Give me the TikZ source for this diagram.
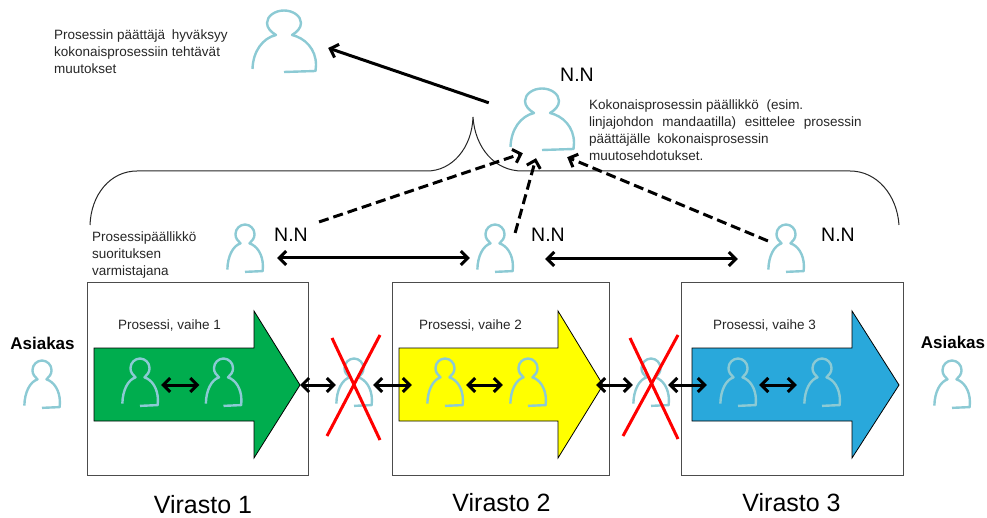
\documentclass[tikz,border=0pt]{standalone}
\usepackage{fontspec}
\setmainfont{Liberation Sans}
\usetikzlibrary{arrows.meta}

\newcommand{\henkilo}[4]{%
  \node[inner sep=0pt, minimum width={64pt*#3}, minimum height={62pt*#4}] (#1) at (#2) {};
  \draw[henkiloviiva, shift={(#2)}, xscale=#3, yscale=#4]
    (-31.5,28) .. controls (-31,10) and (-21,-3) .. (-8,-6)
    .. controls (-13,-9) and (-17,-13) .. (-17,-18)
    .. controls (-17,-25) and (-9,-30.5) .. (0,-30.5)
    .. controls (9,-30.5) and (17,-25) .. (17,-18)
    .. controls (17,-13) and (13,-9) .. (8,-6)
    .. controls (21,-3) and (32,8) .. (32,24) -- (31.5,30) -- (0,31);
}

\tikzset{
  henkiloviiva/.style={line width=2.4pt, draw=henkilovari, line join=round},
  teksti/.style={font=\fontsize{13.5}{17}\selectfont, align=left, anchor=west, inner sep=0pt, text=black!85},
  nimi/.style={font=\fontsize{19.5}{22}\selectfont, inner sep=0pt},
  virasto/.style={font=\fontsize{25}{28}\selectfont, inner sep=0pt},
  asiakas/.style={font=\fontsize{17}{20}\selectfont\bfseries, inner sep=0pt},
  laatikko/.style={draw=black!70, line width=1pt},
  vaihe/.style={draw=black, line width=0.8pt},
  ruksi/.style={red, line width=3pt},
  liitos/.style={<->, line width=3pt},
  esitys/.style={->, line width=3pt, dash pattern=on 10pt off 5pt},
  >={Straight Barb[length=7pt, width=14pt]}
}

\begin{document}
\begin{tikzpicture}[x=1pt, y=-1pt]
  % Define colors
  \definecolor{henkilovari}{HTML}{8CCAD4}
  \definecolor{vihrea}{HTML}{00AD4E}
  \definecolor{keltainen}{HTML}{FFFF00}
  \definecolor{sininen}{HTML}{29A8DB}

  \useasboundingbox (0,0) rectangle (987,518);

  % Agency boxes
  \draw[laatikko] (87,283) rectangle (308,475);
  \draw[laatikko] (392,283) rectangle (609,475);
  \draw[laatikko] (681,283) rectangle (903,475);

  % Process arrows
  \filldraw[vaihe, fill=vihrea] (94,348) -- (254,348) -- (254,311) -- (300,385) -- (254,458) -- (254,421) -- (94,421) -- cycle;
  \filldraw[vaihe, fill=keltainen] (399,348) -- (558,348) -- (558,311) -- (603,385) -- (558,458) -- (558,421) -- (399,421) -- cycle;
  \filldraw[vaihe, fill=sininen] (692,348) -- (852,348) -- (852,311) -- (899,385) -- (852,458) -- (852,421) -- (692,421) -- cycle;
  \coordinate (karki1) at (300,385);
  \coordinate (karki2) at (603,385);

  % Curly bracket
  \draw[black!85, line width=1pt] (90,225) .. controls (91,195) and (110,171) .. (137,171) -- (427,171)
    .. controls (452,171) and (472,148) .. (473,117)
    .. controls (475,148) and (495,171) .. (522,171) -- (850,171)
    .. controls (877,171) and (897,195) .. (899,225);

  % Decision maker and process owners
  \henkilo{paattaja}{284,41}{1}{1}
  \henkilo{paallikko}{542,119}{1}{1}
  \henkilo{omistaja1}{245,248}{0.56}{0.77}
  \henkilo{omistaja2}{495,248}{0.56}{0.77}
  \henkilo{omistaja3}{786,248}{0.56}{0.77}

  % People in the process row
  \henkilo{asiakas1}{42,384}{0.56}{0.77}
  \henkilo{tekija1}{140,382}{0.56}{0.77}
  \henkilo{tekija2}{223.5,382}{0.56}{0.77}
  \henkilo{valivaihe1}{354,382}{0.56}{0.77}
  \henkilo{tekija3}{445,382}{0.56}{0.77}
  \henkilo{tekija4}{528,382}{0.56}{0.77}
  \henkilo{valivaihe2}{651,382}{0.56}{0.77}
  \henkilo{tekija5}{738,382}{0.56}{0.77}
  \henkilo{tekija6}{822,382}{0.56}{0.77}
  \henkilo{asiakas2}{952,384}{0.56}{0.77}

  % Connect the people
  \draw[->, line width=3pt] ([xshift=-21pt, yshift=-15pt]paallikko.north west) -- ([xshift=12pt, yshift=-7pt]paattaja.east);
  \draw[esitys] ([xshift=56pt, yshift=2pt]omistaja1.north east) -- ([xshift=13pt, yshift=-3pt]paallikko.south west);
  \draw[esitys] ([xshift=2pt, yshift=-9pt]omistaja2.north east) -- ([xshift=-6pt, yshift=-8pt]paallikko.south);
  \draw[esitys] ([yshift=-17pt]omistaja3.north west) -- ([xshift=-7pt, yshift=-7pt]paallikko.south east);

  \draw[liitos] ([xshift=14pt, yshift=-10pt]omistaja1.east) -- ([xshift=-7pt, yshift=-10pt]omistaja2.west);
  \draw[liitos] ([xshift=32pt, yshift=-11pt]omistaja2.east) -- ([xshift=-30pt, yshift=-11pt]omistaja3.west);

  \draw[liitos] ([xshift=3pt, yshift=-3pt]tekija1.east) -- ([xshift=-6pt, yshift=-3pt]tekija2.west);
  \draw[liitos] (karki1) -- ([yshift=-3pt]valivaihe1.west);
  \draw[liitos] ([xshift=1pt, yshift=-3pt]valivaihe1.east) -- ([xshift=-15pt, yshift=-3pt]tekija3.west);
  \draw[liitos] ([xshift=3pt, yshift=-3pt]tekija3.east) -- ([xshift=-7pt, yshift=-3pt]tekija4.west);
  \draw[liitos] ([xshift=-7pt]karki2) -- ([yshift=-3pt]valivaihe2.west);
  \draw[liitos] ([xshift=-1pt, yshift=-3pt]valivaihe2.east) -- ([xshift=-13pt, yshift=-3pt]tekija5.west);
  \draw[liitos] ([xshift=3pt, yshift=-3pt]tekija5.east) -- ([xshift=-7pt, yshift=-3pt]tekija6.west);

  % Red crosses
  \draw[ruksi] (332,338) -- (380,440);
  \draw[ruksi] (380,335) -- (327,436);
  \draw[ruksi] (630,338) -- (678,439);
  \draw[ruksi] (678,335) -- (623,436);

  % Add descriptions
  \node[teksti] (paattajateksti) at (54,52) {Prosessin päättäjä\hspace{3pt} hyväksyy\\ kokonaisprosessiin tehtävät\\ muutokset};
  \node[teksti] (paallikkoteksti) at (589,130.5) {Kokonaisprosessin päällikkö\hspace{4pt} (esim.\\ linjajohdon\hspace{5pt} mandaatilla)\hspace{5pt} esittelee\hspace{5pt} prosessin\\ päättäjälle\hspace{3pt} kokonaisprosessin\\ muutosehdotukset.};
  \node[teksti] (omistajateksti) at (92,255) {Prosessipäällikkö\\ suorituksen\\ varmistajana};

  \node[nimi] (nimi0) at (577,75) {N.N};
  \node[nimi] (nimi1) at (291,235) {N.N};
  \node[nimi] (nimi2) at (548,235) {N.N};
  \node[nimi] (nimi3) at (838,235) {N.N};

  \node[teksti] (vaihe1) at (118,325) {Prosessi, vaihe 1};
  \node[teksti] (vaihe2) at (419,325) {Prosessi, vaihe 2};
  \node[teksti] (vaihe3) at (713,325) {Prosessi, vaihe 3};

  \node[asiakas] (asiakasteksti1) at (42.5,343) {Asiakas};
  \node[asiakas] (asiakasteksti2) at (953,342) {Asiakas};

  \node[virasto] (virasto1) at (203,505) {Virasto 1};
  \node[virasto] (virasto2) at (501.5,503) {Virasto 2};
  \node[virasto] (virasto3) at (791.5,503) {Virasto 3};
\end{tikzpicture}
\end{document}
